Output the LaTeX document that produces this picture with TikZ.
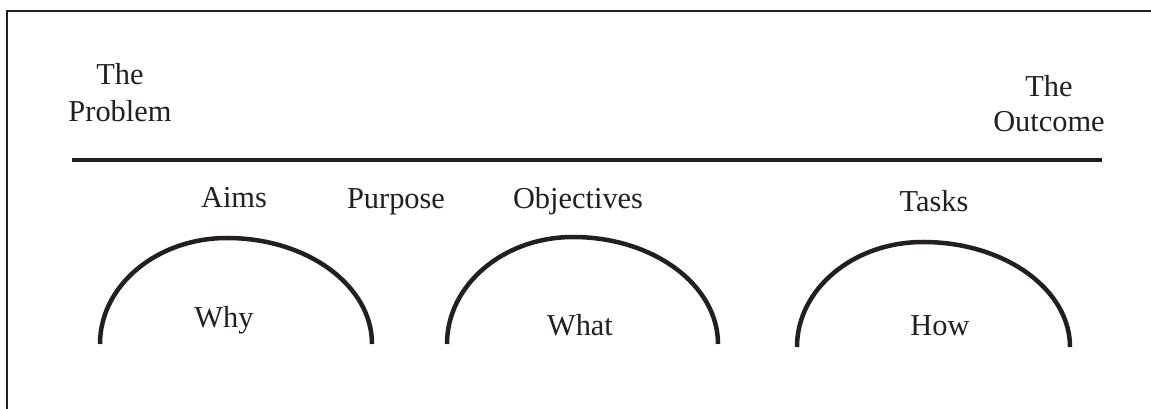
\documentclass[tikz,border=0pt]{standalone}
\usepackage{fontspec}
\setmainfont{Liberation Serif}
\definecolor{ink}{HTML}{231F20}
\begin{document}
\begin{tikzpicture}[x=1pt,y=1pt,
  lbl/.style={inner sep=0pt,anchor=base,text=ink,
    font=\fontsize{30.4}{36}\selectfont},
  twoline/.style={lbl,align=center},
  hump/.style={draw=ink,line width=4.5pt},
  rule/.style={draw=ink,line width=4.5pt},
  frameline/.style={draw=ink,line width=2.5pt}]
\useasboundingbox (0,0) rectangle (1151,409);

% open frame: left and top edges
\coordinate (fbl) at (7,0);
\coordinate (ftl) at (7,398);
\coordinate (ftr) at (1151,398);
\draw[frameline] (fbl) -- (ftl) -- (ftr);

% end labels (anchored on the baseline of their last line)
\node[twoline,font=\fontsize{30.4}{37}\selectfont] (problem) at (120,287) {The\\Problem};
\node[twoline,font=\fontsize{30.4}{35}\selectfont] (outcome) at (1049,277) {The\\Outcome};

% horizontal rule
\coordinate (rl) at (72,249);
\coordinate (rr) at (1102,249);
\draw[rule] (rl) -- (rr);

% labels above the humps
\node[lbl] (aims) at (234,201) {Aims};
\node[lbl] (purpose) at (396,200) {Purpose};
\node[lbl] (objectives) at (578,200) {Objectives};
\node[lbl] (tasks) at (934,197) {Tasks};

% humps
\coordinate (h1) at (100,65);
\coordinate (h2) at (447,65);
\coordinate (h3) at (797,62);
\draw[hump] (h1) arc[start angle=180,end angle=90,x radius=127,y radius=106]
                 arc[start angle=90,end angle=0,x radius=145,y radius=106];
\draw[hump] (h2) arc[start angle=180,end angle=90,x radius=126,y radius=107]
                 arc[start angle=90,end angle=0,x radius=145,y radius=107];
\draw[hump] (h3) arc[start angle=180,end angle=90,x radius=126,y radius=105]
                 arc[start angle=90,end angle=0,x radius=147,y radius=105];

% labels inside the humps
\node[lbl] (why) at (224,81) {Why};
\node[lbl] (what) at (580,73) {What};
\node[lbl] (how) at (940,73) {How};
\end{tikzpicture}
\end{document}
